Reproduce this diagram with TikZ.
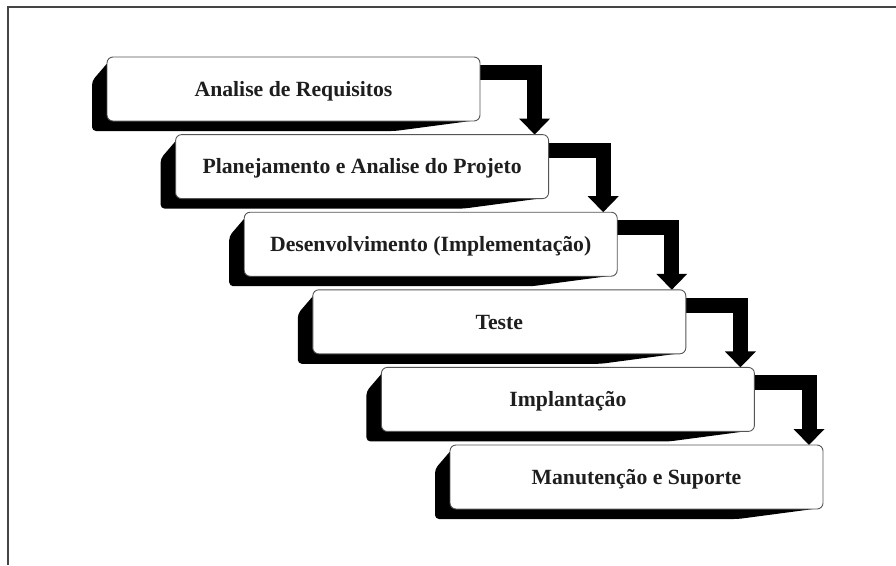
\documentclass[tikz,border=0pt]{standalone}
\usepackage{fontspec}
\setmainfont{Liberation Serif}
\usetikzlibrary{calc,arrows.meta,backgrounds}
\definecolor{boxline}{HTML}{555555}
\definecolor{ink}{HTML}{1E1E1E}
\definecolor{framecol}{HTML}{444444}
\tikzset{
  stage/.style={draw=boxline, line width=0.9pt, fill=white, rounded corners=6pt,
    minimum width=373pt, minimum height=64pt, inner sep=0pt, outer sep=0pt,
    text height=14.4pt, text depth=0pt, text=ink,
    font=\fontsize{21.7pt}{24pt}\selectfont\bfseries},
  flow/.style={draw=black, line width=15pt, line join=miter, line cap=butt,
    -{Triangle[width=30pt,length=16pt]}},
  shade/.style={fill=black, rounded corners=4pt},
  framing/.style={draw=framecol, line width=1.4pt}
}
\newcommand\stageshadow[1]{%
  \fill[shade] ($(#1.north west)+(3,3)$) -- ($(#1.north west)+(-15,24)$)
    -- ($(#1.south west)+(-15,10)$) -- ($(#1.south east)+(-85,10)$)
    -- ($(#1.south east)+(-2,-1)$) -- cycle;}
\begin{document}
\begin{tikzpicture}[x=1pt,y=-1pt]
\useasboundingbox (0,0) rectangle (896,565);
\coordinate (fA) at (8,565);
\coordinate (fB) at (8,7);
\coordinate (fC) at (896,7);
\draw[framing] (fA) -- (fB) -- (fC);

\node[stage] (s1) at (293.5,89) {Analise de Requisitos};
\node[stage] (s2) at (362.1,166.6) {Planejamento e Analise do Projeto};
\node[stage] (s3) at (430.7,244.2) {Desenvolvimento (Implementação)};
\node[stage] (s4) at (499.3,321.8) {Teste};
\node[stage] (s5) at (567.9,399.4) {Implantação};
\node[stage] (s6) at (636.5,477) {Manutenção e Suporte};

\begin{scope}[on background layer]
  \fill[white] (0,0) rectangle (896,565);
  \foreach \s in {s1,s2,s3,s4,s5,s6} {\stageshadow{\s}}
  \foreach \a/\b in {s1/s2,s2/s3,s3/s4,s4/s5,s5/s6} {
    \draw[flow] ($(\a.north east)+(-3,15.5)$) -| ($(\b.north east)+(-14,0)$);
  }
\end{scope}
\end{tikzpicture}
\end{document}
